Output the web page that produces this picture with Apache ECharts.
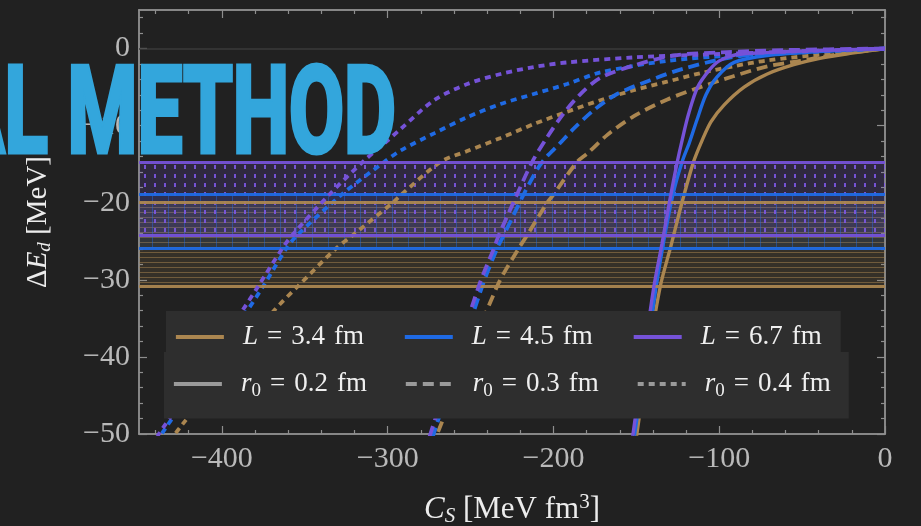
<!DOCTYPE html>
<html>
<head>
<meta charset="utf-8">
<script src="https://cdn.jsdelivr.net/npm/echarts@6/dist/echarts.min.js"></script>
<style>
  html, body { margin: 0; background: #212121; }
  #chart { width: 921px; height: 526px; }
</style>
</head>
<body>
<div id="chart"></div>
<script>
// ---- values ----
const xTicks = [-400, -300, -200, -100, 0]
const yTicks = [-50, -40, -30, -20, -10, 0]
const boxLengths = ['3.4', '4.5', '6.7']
const cutoffs = ['0.2', '0.3', '0.4']
// band of the lattice result for each L [MeV]
const bandLow = [-30.8, -25.9, -24.2]
const bandHigh = [-20.0, -18.9, -14.7]

// L = 3.4 fm
const cs_34_02 = [0, -20, -40, -55, -71, -85, -97, -105, -110.5, -115.5, -122.5, -129, -135.5, -142.5, -149.7, -150.2]
const dE_34_02 = [0, -0.6, -1.3, -2.1, -3.3, -5, -7.3, -9.5, -12, -14.7, -20, -25.5, -30.8, -39.5, -50, -51]
const cs_34_03 = [0, -30, -51, -71, -91.5, -111.4, -131.3, -151.7, -167.5, -179.5, -185.7, -199.8, -203.8, -215.8, -220.9, -233.9, -271]
const dE_34_03 = [0, -0.8, -1.6, -2.3, -3.6, -5, -6.6, -8.8, -11.2, -13.6, -14.7, -18.9, -20, -24.2, -25.9, -30.8, -50.5]
const cs_34_04 = [0, -30, -71.3, -91.4, -111.4, -131.5, -151.6, -171.7, -191.8, -211.9, -231.9, -252, -268, -291.5, -297, -321, -331, -354, -369, -397, -424.7, -429]
const dE_34_04 = [0, -0.6, -1.55, -2.3, -3.2, -4.3, -5.4, -6.7, -8.2, -9.8, -11.6, -13.3, -14.7, -18.9, -20, -24.2, -25.9, -30.8, -34.1, -41.5, -49, -50.2]

// L = 4.5 fm
const cs_45_02 = [0, -40, -71, -91, -101.4, -108, -113.5, -118, -122.4, -127.9, -133.3, -138, -144.5, -151, -151.5]
const dE_45_02 = [0, -0.4, -0.9, -1.8, -3.7, -6, -9.3, -12.2, -14.7, -18.9, -24.8, -30.8, -40.5, -50, -51]
const cs_45_03 = [0, -60, -91.5, -121.5, -141.6, -161.6, -175.7, -187.8, -197, -204, -209, -217.9, -229.9, -233.9, -242.9, -273]
const dE_45_03 = [0, -0.5, -1.1, -2.6, -4.1, -5.9, -8, -10.4, -12.5, -14, -15.4, -18.9, -24.2, -25.9, -30.8, -50.5]
const cs_45_04 = [0, -50, -91.4, -131.5, -171.7, -191.8, -211.9, -231.9, -252, -272, -292, -302, -327.5, -354.5, -361, -375, -385, -410, -437]
const dE_45_04 = [0, -0.5, -0.9, -1.6, -3.1, -4.6, -5.9, -7.2, -8.9, -11, -13.2, -14.7, -18.9, -24.2, -25.9, -30.8, -34.1, -41.7, -50.2]

// L = 6.7 fm
const cs_67_02 = [0, -40, -70, -90, -100, -106, -113, -118.5, -122.5, -125.3, -129.5, -134.5, -139.5, -145.8, -152, -152.5]
const dE_67_02 = [0, -0.25, -0.5, -0.8, -1.6, -2.8, -5, -8.5, -12, -14.7, -19.3, -25.3, -31, -40.5, -50, -51]
const cs_67_03 = [0, -60, -100, -127.5, -151.6, -171.7, -183.7, -193.8, -203.8, -212.8, -221.9, -232.9, -235.9, -245, -275]
const dE_67_03 = [0, -0.2, -0.5, -0.9, -2.2, -3.8, -5.9, -8.4, -11.5, -14.7, -18.9, -24.2, -25.9, -30.8, -50.5]
const cs_67_04 = [0, -71.3, -111.4, -151.6, -191.8, -211.9, -231.9, -252, -272, -292, -302, -315, -335, -357.5, -363.5, -378, -388, -412, -439]
const dE_67_04 = [0, -0.5, -0.8, -1.15, -1.8, -2.4, -3.3, -4.6, -6.7, -10.4, -12.3, -14.7, -18.9, -24.2, -25.9, -30.8, -34.1, -41.8, -50.3]

const curves = [
  {L: 0, r: 0, cs: cs_34_02, dE: dE_34_02}, {L: 0, r: 1, cs: cs_34_03, dE: dE_34_03}, {L: 0, r: 2, cs: cs_34_04, dE: dE_34_04},
  {L: 1, r: 0, cs: cs_45_02, dE: dE_45_02}, {L: 1, r: 1, cs: cs_45_03, dE: dE_45_03}, {L: 1, r: 2, cs: cs_45_04, dE: dE_45_04},
  {L: 2, r: 0, cs: cs_67_02, dE: dE_67_02}, {L: 2, r: 1, cs: cs_67_03, dE: dE_67_03}, {L: 2, r: 2, cs: cs_67_04, dE: dE_67_04},
]

// ---- styling ----
const colors = ['#ab8650', '#1f6ae4', '#7552d8']
const dashes = ['solid', [11, 6], [6, 5]]
const frame = '#8e8e8e'
const serif = 'Liberation Serif'

// hatch fills of the three bands
function pattern(w, h, bg, draw) {
  const c = document.createElement('canvas')
  c.width = w
  c.height = h
  const g = c.getContext('2d')
  g.fillStyle = bg
  g.fillRect(0, 0, w, h)
  draw(g)
  return {image: c, repeat: 'repeat'}
}
const fills = [
  pattern(4, 5, 'rgba(171,134,80,0.15)', g => { g.fillStyle = 'rgba(171,134,80,0.5)'; g.fillRect(0, 2, 4, 1) }),
  pattern(16, 4, 'rgba(31,106,228,0.10)', g => { g.fillStyle = 'rgba(31,106,228,0.45)'; g.fillRect(8, 0, 1, 4) }),
  pattern(10, 9, 'rgba(117,82,216,0.17)', g => { g.fillStyle = 'rgba(125,88,230,0.9)'; g.fillRect(4, 3, 2, 4) }),
]

const minus = v => v === 0 ? '0' : '\u2212' + Math.abs(v)
const xMinor = []
for (let v = -440; v < 0; v += 20) if (v % 100) xMinor.push(v)
const yMinor = []
for (let v = -48; v <= 4; v += 2) if (v % 10) yMinor.push(v)

function xAxis(pos, ticks, len, labels) {
  return {
    type: 'value', min: -450, max: 0, position: pos,
    axisLine: {onZero: false, lineStyle: {color: frame, width: 1.5}},
    axisTick: {inside: true, length: len, customValues: ticks, lineStyle: {color: frame, width: 1.2}},
    axisLabel: labels ? {customValues: xTicks, formatter: minus, color: '#b9b9b9', fontFamily: serif, fontSize: 30, margin: 10}
                      : {show: false},
    splitLine: {show: false}
  }
}
function yAxis(pos, ticks, len, labels) {
  return {
    type: 'value', min: -50, max: 5, position: pos,
    axisLine: {onZero: false, lineStyle: {color: frame, width: 1.5}},
    axisTick: {inside: true, length: len, customValues: ticks, lineStyle: {color: frame, width: 1.2}},
    axisLabel: labels ? {customValues: yTicks, formatter: minus, color: '#b9b9b9', fontFamily: serif, fontSize: 30, margin: 9}
                      : {show: false},
    splitLine: {show: false}
  }
}

const xAxes = [xAxis('bottom', xTicks, 8, true), xAxis('top', xTicks, 8, false),
               xAxis('bottom', xMinor, 4, false), xAxis('top', xMinor, 4, false)]
Object.assign(xAxes[0], {
  name: '{i|C}{sub|S} [MeV fm{sup|3}]', nameLocation: 'middle', nameGap: 58,
  nameTextStyle: {
    color: '#ececec', fontFamily: serif, fontSize: 31,
    rich: {
      i: {fontFamily: serif, fontSize: 31, fontStyle: 'italic', color: '#ececec'},
      sub: {fontFamily: serif, fontSize: 21, fontStyle: 'italic', color: '#ececec', padding: [12, 0, 0, 0]},
      sup: {fontFamily: serif, fontSize: 21, color: '#ececec', padding: [0, 0, 15, 0]}
    }
  }
})
const yAxes = [yAxis('left', yTicks, 8, true), yAxis('right', yTicks, 8, false),
               yAxis('left', yMinor, 4, false), yAxis('right', yMinor, 4, false)]
Object.assign(yAxes[0], {
  name: '\u0394{i|E}{sub|d} [MeV]', nameLocation: 'middle', nameGap: 85, nameRotate: 90,
  nameTextStyle: {
    color: '#ececec', fontFamily: serif, fontSize: 29,
    rich: {
      i: {fontFamily: serif, fontSize: 29, fontStyle: 'italic', color: '#ececec'},
      sub: {fontFamily: serif, fontSize: 19, fontStyle: 'italic', color: '#ececec', padding: [12, 0, 0, 0]}
    }
  }
})

const series = []
// one series per L carries the band and the legend entry
boxLengths.forEach((L, i) => {
  series.push({
    name: 'L = ' + L + ' fm', type: 'line', data: [], symbol: 'none', z: 1,
    color: colors[i], lineStyle: {color: colors[i], width: 3.6},
    markArea: {silent: true, itemStyle: {color: fills[i]}, data: [[{yAxis: bandHigh[i]}, {yAxis: bandLow[i]}]]},
    markLine: {
      silent: true, symbol: ['none', 'none'], label: {show: false},
      lineStyle: {color: colors[i], width: 3, type: 'solid', opacity: 0.95},
      data: [{yAxis: bandHigh[i]}, {yAxis: bandLow[i]}]
    }
  })
})
// gray legend entries for the cutoff radius
cutoffs.forEach((r, j) => {
  const s = {
    name: 'r0 = ' + r + ' fm', type: 'line', data: [], symbol: 'none', z: 1,
    color: '#9a9a9a', lineStyle: {color: '#9a9a9a', width: 3.6, type: dashes[j]}
  }
  if (j === 0) {
    s.markLine = {silent: true, symbol: ['none', 'none'], label: {show: false},
                  lineStyle: {color: '#3a3a3a', width: 1.5, type: 'solid'}, data: [{yAxis: 0}]}
  }
  series.push(s)
})
curves.forEach(c => {
  series.push({
    name: 'L = ' + boxLengths[c.L] + ' fm, r0 = ' + cutoffs[c.r] + ' fm',
    type: 'line', smooth: 0.3, symbol: 'none', z: 3 + c.L,
    lineStyle: {color: colors[c.L], width: c.r === 0 ? 3.4 : 3.8, type: dashes[c.r]},
    data: c.cs.map((x, k) => [x, c.dE[k]])
  })
})

const legendText = {
  color: '#efefef', fontFamily: serif, fontSize: 27, lineHeight: 30, width: 140, padding: [0, 0, 0, 14],
  rich: {
    i: {fontFamily: serif, fontSize: 27, fontStyle: 'italic', color: '#efefef'},
    sub: {fontFamily: serif, fontSize: 19, color: '#efefef', padding: [14, 0, 0, 0]}
  }
}
const fmt = name => name.replace(/ = /, '\u2004=\u2004').replace(/ fm$/, '\u2004fm')
  .replace(/^L/, '{i|L}').replace(/^r0/, '{i|r}{sub|0}')
const legendBase = {
  orient: 'horizontal', itemWidth: 48, itemHeight: 14, selectedMode: false,
  backgroundColor: '#2e2e2e', formatter: fmt, textStyle: legendText,
  itemStyle: {opacity: 0}, lineStyle: {width: 3.8}
}

const chart = echarts.init(document.getElementById('chart'))
chart.setOption({
  backgroundColor: '#212121',
  animation: false,
  grid: {left: 139, right: 36, top: 10, bottom: 92, containLabel: false, outerBoundsMode: 'none'},
  xAxis: xAxes,
  yAxis: yAxes,
  legend: [
    Object.assign({}, legendBase, {
      data: boxLengths.map(L => 'L = ' + L + ' fm'), left: 166, top: 311,
      itemGap: 20, padding: [11, 0, 11, 8], z: 10
    }),
    Object.assign({}, legendBase, {
      data: cutoffs.map(r => 'r0 = ' + r + ' fm'), left: 164, top: 352,
      itemGap: 23, padding: [17, 4, 18, 8], z: 11
    })
  ],
  graphic: [{
    type: 'text', x: 396, y: 122, scaleX: 0.66, z: 100,
    style: {text: 'AL METHOD', font: 'bold 121px Roboto', fill: '#33a6dc', stroke: '#33a6dc', lineWidth: 5,
            align: 'right', verticalAlign: 'middle'}
  }],
  series: series
})
</script>
</body>
</html>
